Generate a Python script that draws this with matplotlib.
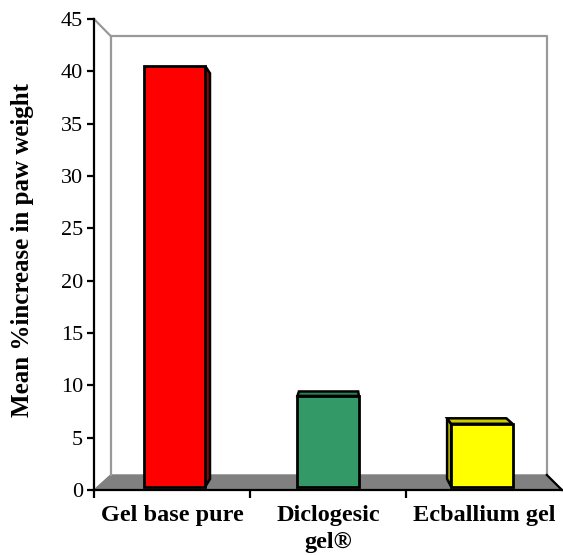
import matplotlib
matplotlib.use("Agg")
import matplotlib.pyplot as plt
from matplotlib.transforms import Affine2D
import numpy as np

# dados do grafico
categorias = ["Gel base pure", "Diclogesic\ngel®", "Ecballium gel"]
valores = [40.8, 8.8, 6.1]
cores_frente = ["#FF0000", "#339966", "#FFFF00"]
cores_lado = ["#990000", "#2A7F55", "#CCCC00"]
y_ticks = np.arange(0, 50, 5)

plt.rcParams['font.family'] = ['Liberation Serif', 'DejaVu Serif']

fig = plt.figure(figsize=(5.63, 5.55), dpi=100)
ax = fig.add_axes([94/563, 65/555, 468/563, 471/555])
ax.set_xlim(-0.5, 2.5)
ax.set_ylim(0, 45)

# ponto de fuga da perspectiva (coordenadas dos dados)
vp = np.array([1.07, 21.1])
prof_parede = 0.068   # fundo do grafico
k1, k2 = 0.015, 0.05  # frente e tras das barras


def encolhe(p, k):
    p = np.asarray(p, dtype=float)
    return vp + (1 - k) * (p - vp)


def profundidade(k):
    return (Affine2D().translate(-vp[0], -vp[1]).scale(1 - k)
            .translate(vp[0], vp[1]) + ax.transData)


x0, x1 = ax.get_xlim()
y0, y1 = ax.get_ylim()

# chao cinzento
frente = [(x0, y0), (x1, y0)]
tras = [encolhe(p, prof_parede) for p in frente]
chao = np.array([frente[0], frente[1], tras[1], tras[0]])
ax.fill(chao[:, 0], chao[:, 1], color="#808080", zorder=1, clip_on=False)

# parede do fundo
cantos = [(x0, y0), (x0, y1), (x1, y1), (x1, y0)]
fundo = np.array([encolhe(p, prof_parede) for p in cantos])
ax.plot(fundo[:, 0], fundo[:, 1], color="#999999", lw=1.6, zorder=1.5)
a = encolhe((x0, y1), prof_parede)
ax.plot([x0, a[0]], [y1, a[1]], color="#999999", lw=1.6, zorder=1.5, clip_on=False)
b = encolhe((x1, y0), prof_parede)
ax.plot([x1, b[0]], [y0, b[1]], color="black", lw=1.6, zorder=1.5, clip_on=False)

# barras: faces laterais / topo
largura = 0.4
posicoes = np.arange(len(valores))
for xc, v, cl in zip(posicoes, valores, cores_lado):
    xl, xr = xc - largura / 2, xc + largura / 2
    faces = []
    if xr < vp[0]:
        faces.append([(xr, 0), (xr, v)])
    if xl > vp[0]:
        faces.append([(xl, 0), (xl, v)])
    if v < vp[1]:
        faces.append([(xl, v), (xr, v)])
    for p, q in faces:
        poli = np.array([encolhe(p, k1), encolhe(q, k1), encolhe(q, k2), encolhe(p, k2)])
        ax.fill(poli[:, 0], poli[:, 1], facecolor=cl, edgecolor="black",
                lw=1.8, zorder=2, joinstyle="miter")

ax.bar(posicoes, valores, largura, color=cores_frente, edgecolor="black",
       linewidth=2, zorder=3, transform=profundidade(k1))

# eixos
ax.spines[["top", "right"]].set_visible(False)
ax.spines["left"].set_linewidth(1.6)
ax.spines["bottom"].set_linewidth(1.6)
ax.set_yticks(y_ticks)
ax.tick_params(axis="y", direction="out", length=5, width=1.6, labelsize=16, pad=3)
ax.set_xticks(posicoes)
ax.set_xticklabels(categorias, fontsize=17.5, fontweight="bold", linespacing=1.35)
ax.set_xticks([-0.5, 0.5, 1.5], minor=True)
ax.tick_params(axis="x", which="major", length=0, pad=11)
ax.tick_params(axis="x", which="minor", direction="out", length=6, width=1.6)

ax.set_ylabel("Mean %increase in paw weight", fontsize=18, fontweight="bold")
ax.yaxis.set_label_coords(-0.128, 0.51)

fig.savefig("out.png", dpi=100)
